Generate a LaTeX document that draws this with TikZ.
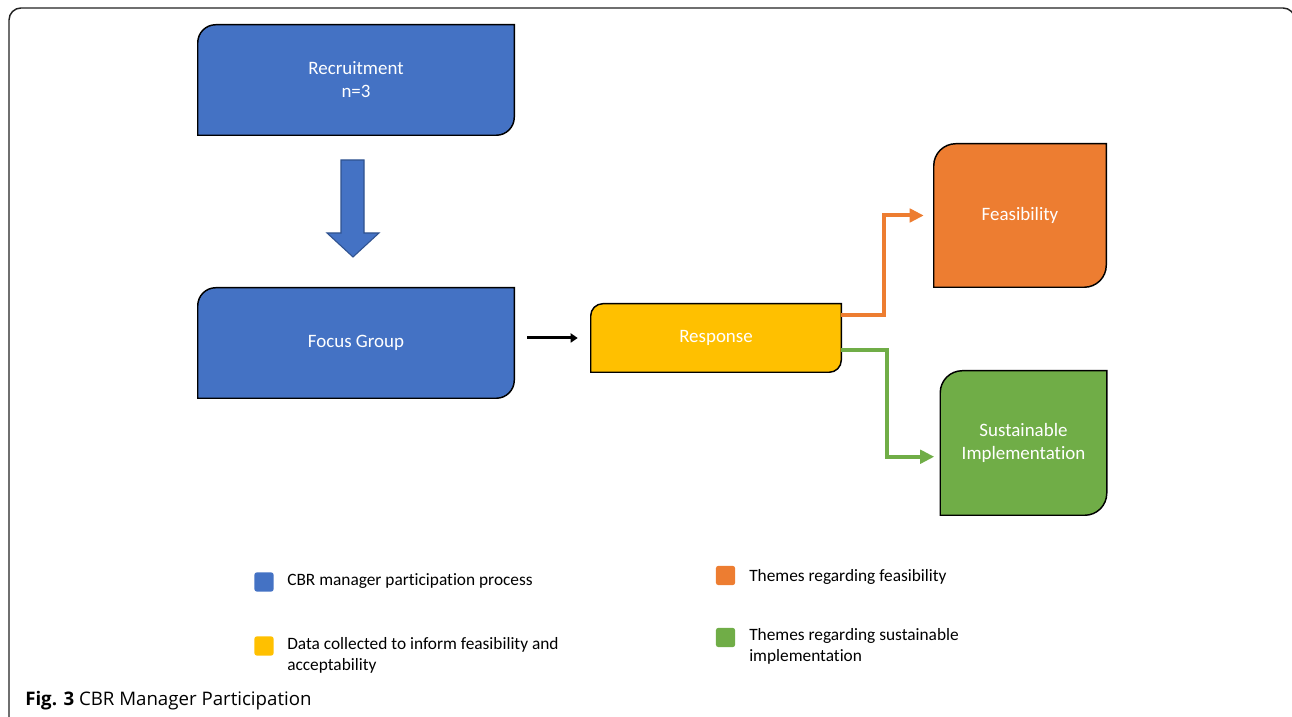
\documentclass[tikz,border=0pt]{standalone}
\usepackage{fontspec}
\setmainfont{Carlito}[Ligatures=NoCommon]
\newfontfamily\capfont{Open Sans}[Ligatures=NoCommon]
\usetikzlibrary{arrows.meta,calc}
\definecolor{cblue}{HTML}{4472C4}
\definecolor{cblued}{HTML}{2F528F}
\definecolor{corange}{HTML}{ED7D31}
\definecolor{cyellow}{HTML}{FFC000}
\definecolor{cgreen}{HTML}{70AD47}
\definecolor{frame}{HTML}{222222}
\pgfdeclarelayer{background}
\pgfsetlayers{background,main}
% #1 node name, #2 fill colour, #3 corner radius
\newcommand\diagshape[3]{%
  \begin{pgfonlayer}{background}
  \filldraw[fill=#2,draw=black,line width=1.1pt]
    (#1.south west) -- ([yshift=-#3]#1.north west)
    arc[start angle=180,end angle=90,radius=#3]
    -- (#1.north east) -- ([yshift=#3]#1.south east)
    arc[start angle=0,end angle=-90,radius=#3] -- cycle;
  \end{pgfonlayer}}
\begin{document}
\begin{tikzpicture}[x=0.75pt,y=0.75pt,
  boxtext/.style={text=white,font=\fontsize{14.2}{17.25}\selectfont,align=center,inner sep=0pt},
  legtext/.style={anchor=west,align=left,inner sep=0pt,font=\fontsize{13}{15.75}\selectfont},
  legsq/.style={minimum size=14.5pt,inner sep=0pt,rounded corners=2pt},
  conn/.style={line width=3pt,-{Triangle[length=10.5pt,width=10pt]}},
]
\useasboundingbox (0,0) rectangle (1292,717);
\clip (0,0) rectangle (1292,717);
% outer frame
\draw[frame,line width=1.1pt,rounded corners=9pt] (9,-30) -- (9,709) -- (1295,709) -- (1295,-30);

% boxes
\node[boxtext,minimum width=237pt,minimum height=82.5pt] (rec) at (356,637) {Recruitment\\n=3};
\diagshape{rec}{cblue}{13.5pt}
\node[boxtext,minimum width=237pt,minimum height=82.5pt] (fg) at (356,374) {Focus Group};
\diagshape{fg}{cblue}{13.5pt}
\node[boxtext,minimum width=187.5pt,minimum height=51pt] (resp) at (716,379) {Response};
\diagshape{resp}{cyellow}{9pt}
\node[boxtext,minimum width=129pt,minimum height=107.25pt] (feas) at (1020,501.5) {Feasibility};
\diagshape{feas}{corange}{16.5pt}
\node[boxtext,minimum width=124.5pt,minimum height=108pt] (sust) at (1023.5,274) {Sustainable\\Implementation};
\diagshape{sust}{cgreen}{16.5pt}

% block arrow
\filldraw[fill=cblue,draw=cblued,line width=0.8pt]
  (341,557) -- (364,557) -- (364,484) -- (379,484) -- (353,460) -- (327,484) -- (341,484) -- cycle;

% connectors
\draw[line width=2.25pt,-{Triangle[length=5.25pt,width=6.75pt]},shorten <=9.75pt,shorten >=9.75pt]
  (fg.east |- resp.west) -- (resp.west);
\draw[conn,draw=corange,shorten >=7.5pt]
  ([yshift=17.25pt]resp.east) -- ++(43,0) |- (feas.west);
\draw[conn,draw=cgreen,shorten >=4.5pt]
  ([yshift=-9pt]resp.east) -- ++(46,0) |- ([yshift=-10.3pt]sust.west);

% legend
\node[legsq,fill=cblue] (lb) at (264,135) {};
\node[legtext] (lbt) at (287,136) {CBR manager participation process};
\node[legsq,fill=cyellow] (ly) at (264,71) {};
\node[legtext] (lyt) at (287,61.5) {Data collected to inform feasibility and\\acceptability};
\node[legsq,fill=corange] (lo) at (725.5,141.5) {};
\node[legtext] (lot) at (749,140) {Themes regarding feasibility};
\node[legsq,fill=cgreen] (lg) at (725.5,79.5) {};
\node[legtext] (lgt) at (749,71) {Themes regarding sustainable\\implementation};

% caption
\node[anchor=west,inner sep=0pt,font=\capfont\fontsize{14}{16}\selectfont] (cap) at (25,16)
  {\textbf{Fig. 3} CBR Manager Participation};
\end{tikzpicture}
\end{document}
